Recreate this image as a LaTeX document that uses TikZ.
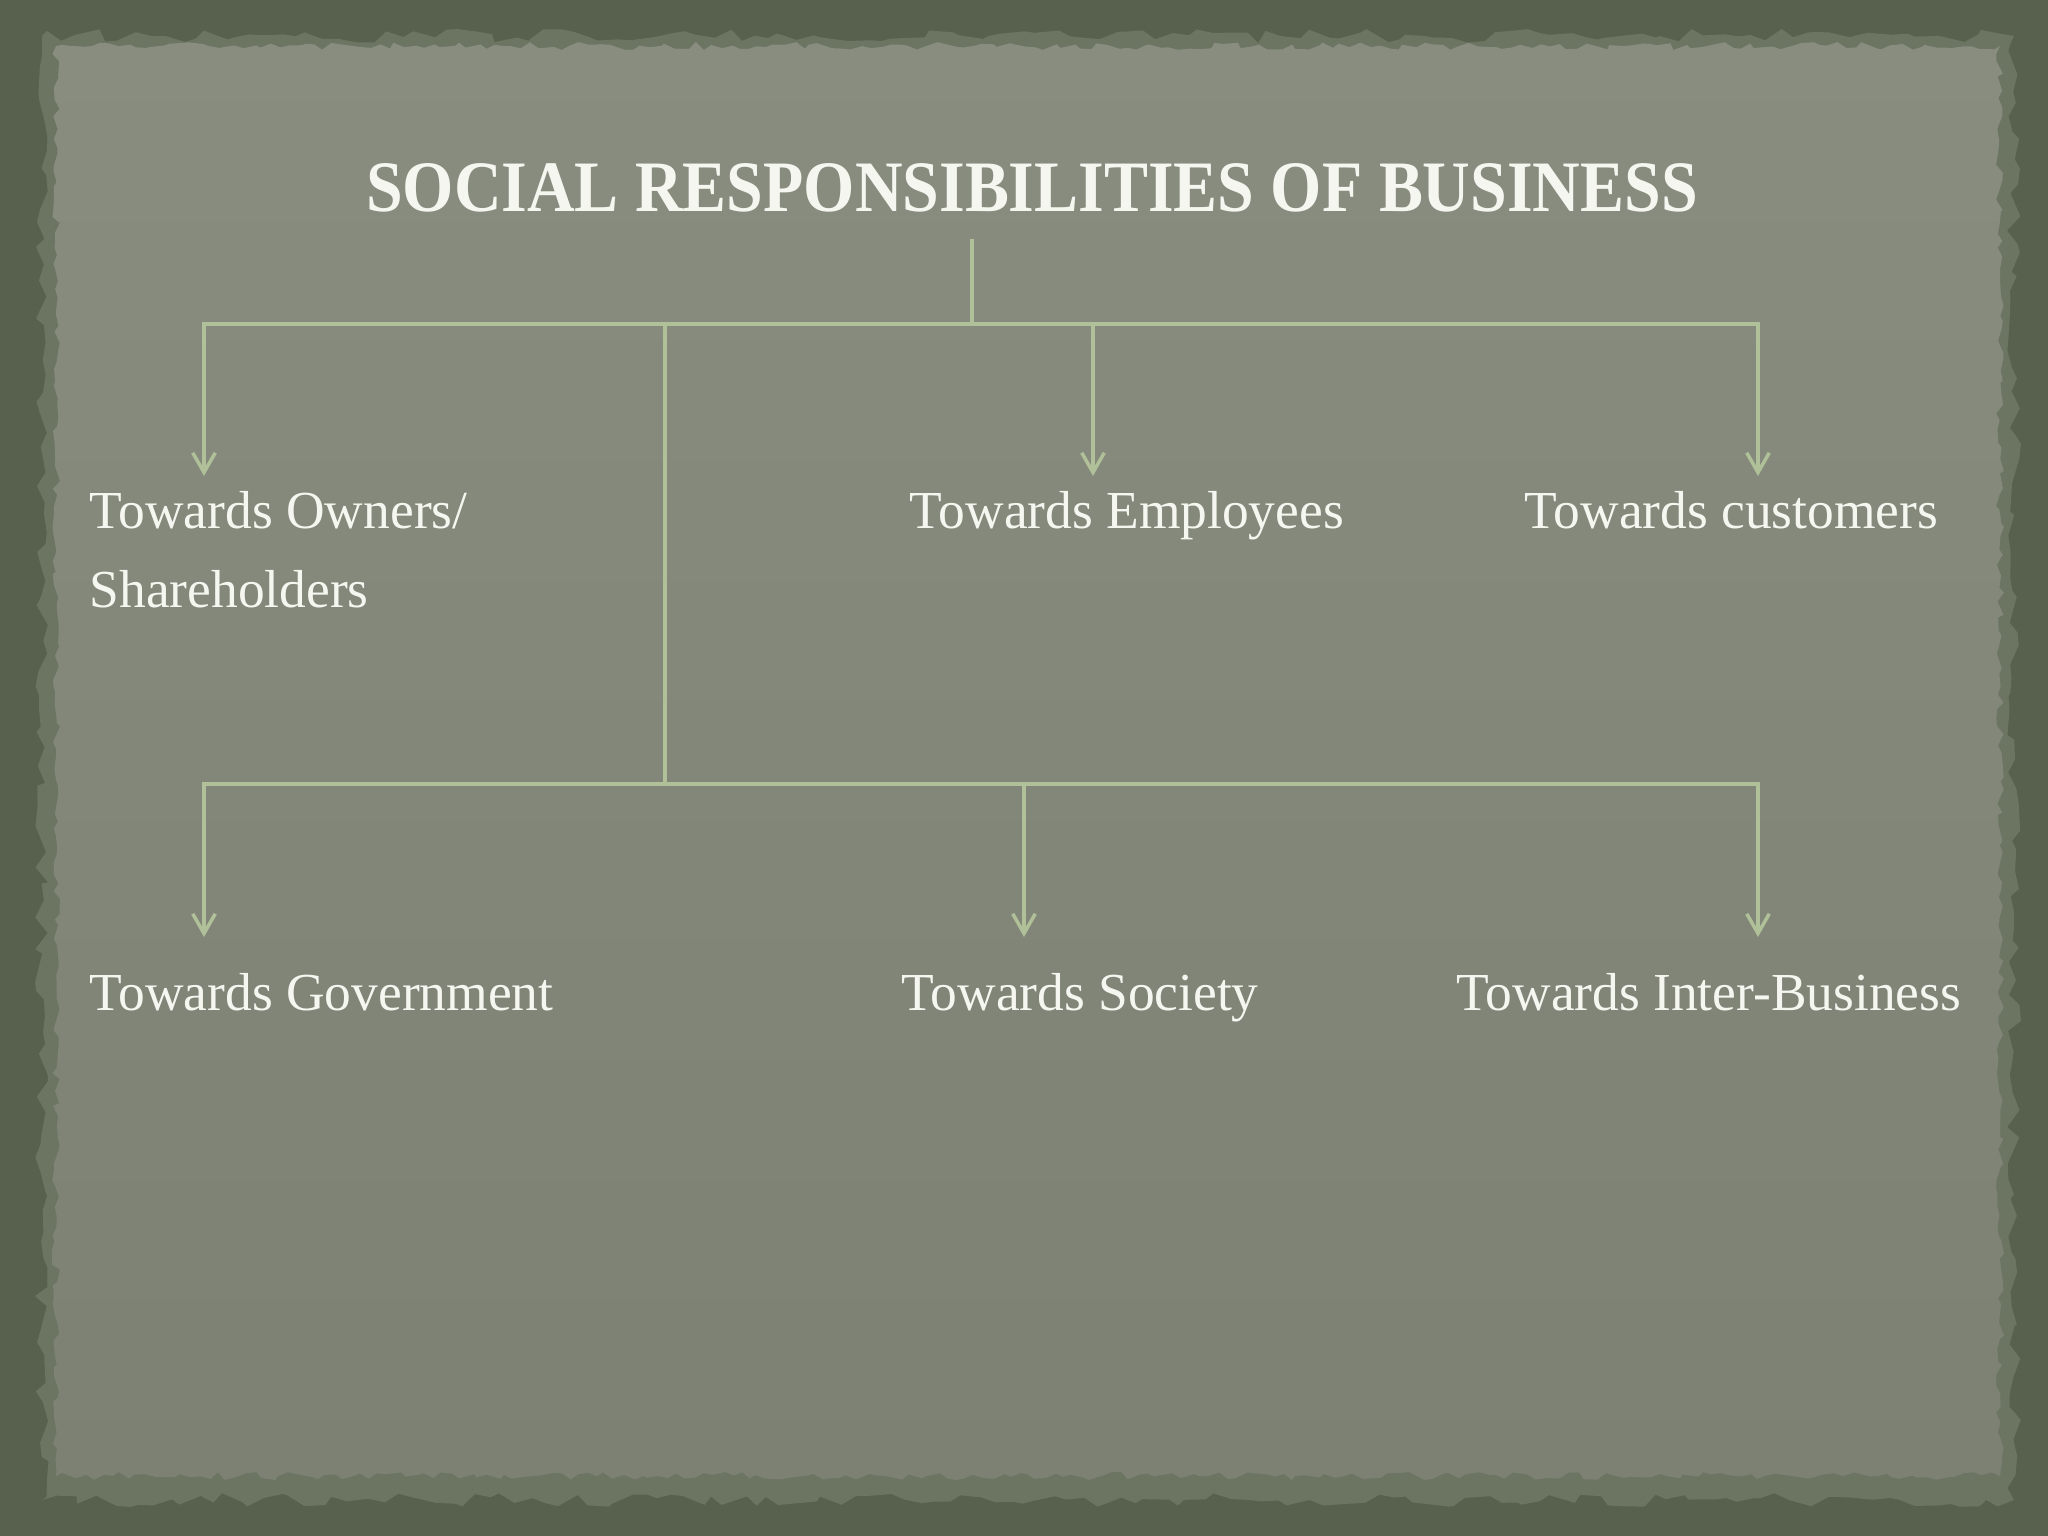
\documentclass[tikz,border=0pt]{standalone}
\usepackage{fontspec}
\setmainfont{Liberation Serif}
\usepackage{graphicx}
\usetikzlibrary{arrows.meta,decorations.pathmorphing,calc}
\definecolor{framec}{RGB}{88,96,78}
\definecolor{edgeband}{RGB}{108,116,98}
\definecolor{papertop}{RGB}{136,141,127}
\definecolor{paperbot}{RGB}{124,129,116}
\definecolor{linkc}{RGB}{176,192,152}
\definecolor{txt}{RGB}{246,246,240}
\tikzset{
  lbl/.style={anchor=base west, inner sep=0pt, text=txt, font=\fontsize{15.2}{18}\selectfont},
  link/.style={draw=linkc, line width=1pt},
  arr/.style={link, -{Straight Barb[length=5.6pt,width=6.4pt]}},
}
\begin{document}
\begin{tikzpicture}[x=0.01cm,y=-0.01cm]
\useasboundingbox (0,0) rectangle (2048,1536);
\fill[framec] (0,0) rectangle (2048,1536);
\pgfmathsetseed{11}
\fill[edgeband, decorate, decoration={random steps, segment length=0.14cm, amplitude=0.07cm}] (42,36) rectangle (2014,1500);
\shade[top color=papertop, bottom color=paperbot, decorate, decoration={random steps, segment length=0.09cm, amplitude=0.04cm}] (56,46) rectangle (2000,1476);

\node[anchor=base, inner sep=0pt, text=txt, font=\bfseries\fontsize{20.6}{24}\selectfont] (title) at (1032,211) {\scalebox{0.91}[1]{SOCIAL RESPONSIBILITIES OF BUSINESS}};

\node[lbl] (own) at (89,528) {Towards Owners/};
\node[lbl] (own2) at (89,607) {Shareholders};
\node[lbl] (emp) at (909,528) {Towards Employees};
\node[lbl] (cus) at (1524,528) {Towards customers};
\node[lbl] (gov) at (89,1010) {Towards Government};
\node[lbl] (soc) at (901,1010) {Towards Society};
\node[lbl] (ibz) at (1456,1010) {Towards Inter-Business};

\coordinate (t0) at (972,239);
\coordinate (hub) at (972,324);
\coordinate (spine) at (665,324);
\coordinate (spine2) at (665,784);
\coordinate (a1) at (204,476);
\coordinate (a2) at (1093,476);
\coordinate (a3) at (1758,476);
\coordinate (b1) at (204,937);
\coordinate (b2) at (1024,937);
\coordinate (b3) at (1758,937);

\draw[link] (t0) -- (hub);
\draw[arr] (hub) -| (a1);
\draw[arr] (hub) -| (a3);
\draw[arr] (hub -| a2) -- (a2);
\draw[link] (spine) -- (spine2);
\draw[arr] (spine2) -| (b1);
\draw[arr] (spine2) -| (b3);
\draw[arr] (spine2 -| b2) -- (b2);
\end{tikzpicture}
\end{document}
